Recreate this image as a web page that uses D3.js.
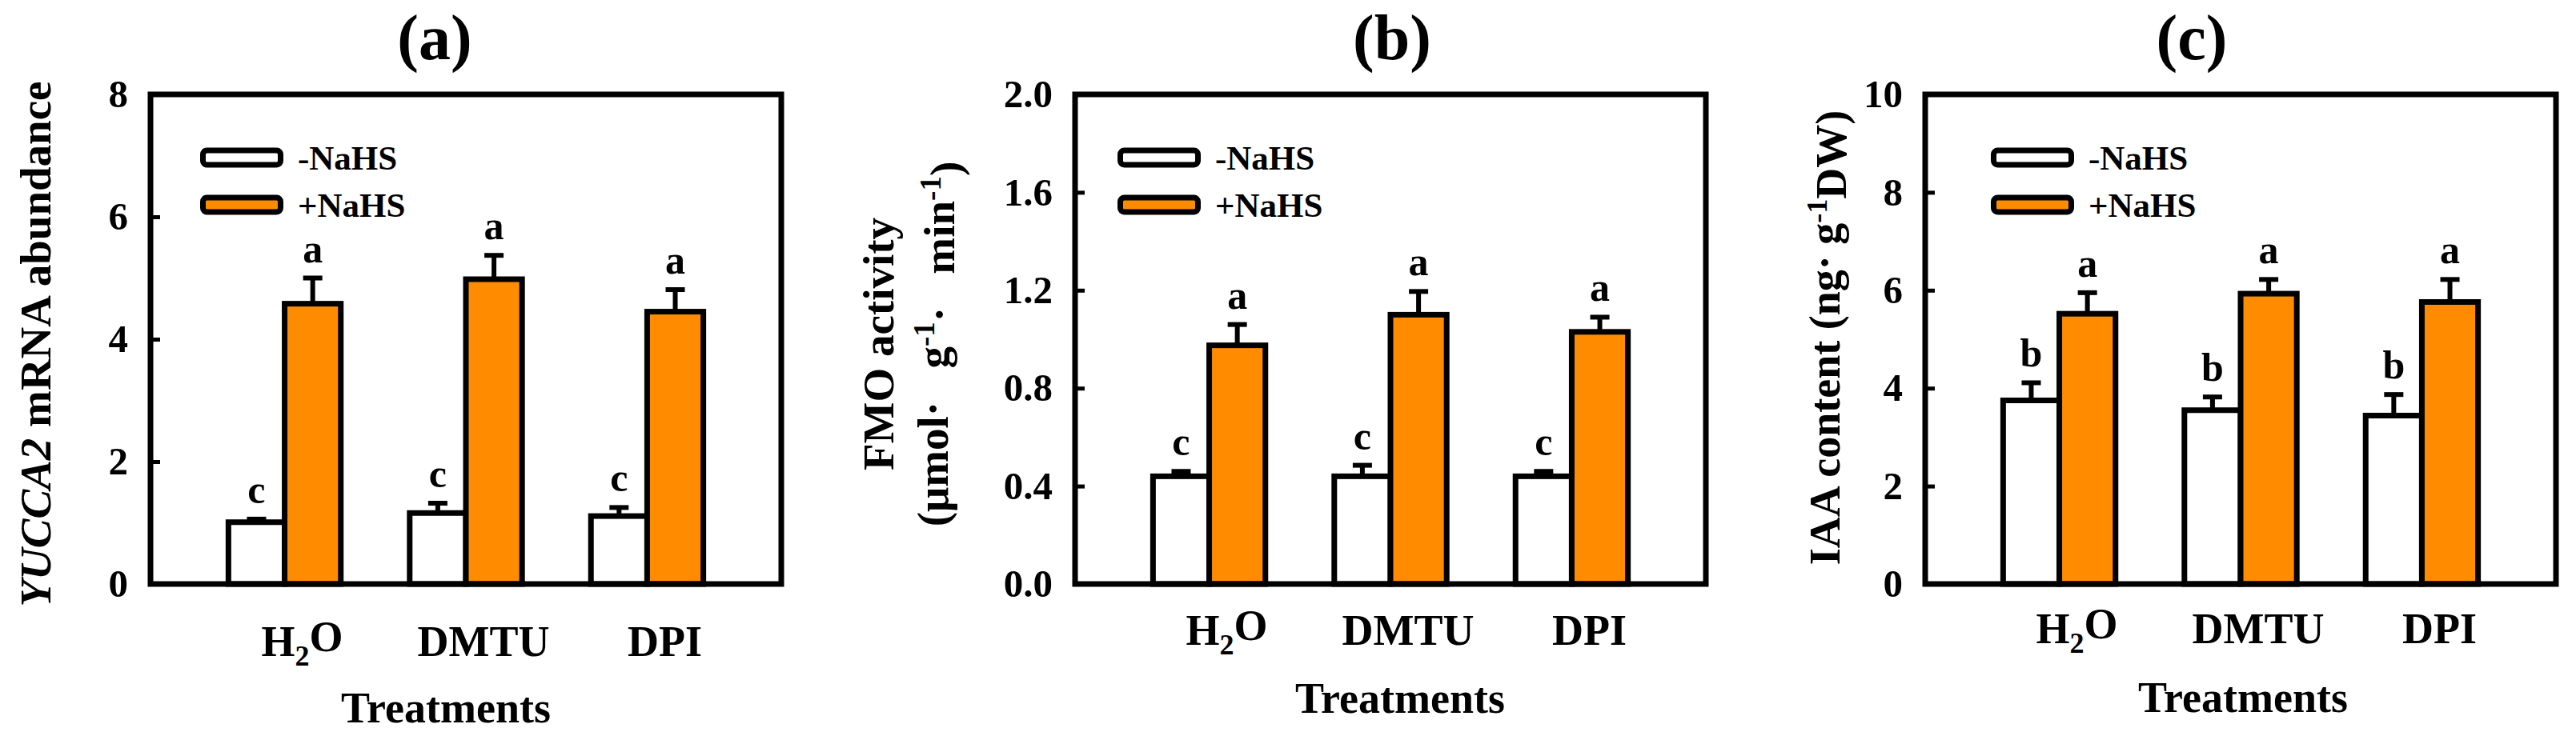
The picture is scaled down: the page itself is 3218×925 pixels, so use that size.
<!DOCTYPE html>
<html>
<head>
<meta charset="utf-8">
<script src="https://cdn.jsdelivr.net/npm/d3@7"></script>
<style>
  body { margin: 0; background: #fff; }
  text { font-family: "Liberation Serif", "Times New Roman", serif; font-weight: bold; fill: #000; }
</style>
</head>
<body>
<svg id="chart" width="3218" height="925"></svg>
<script>
// Categories and series
const treatments = ["H2O", "DMTU", "DPI"];
const seriesNames = ["-NaHS", "+NaHS"];

// (a) YUCCA2 mRNA abundance
const yuccaMinus = [1.01, 1.16, 1.11];
const yuccaMinusErr = [0.05, 0.16, 0.14];
const yuccaPlus = [4.58, 4.98, 4.45];
const yuccaPlusErr = [0.42, 0.39, 0.36];
const yuccaTicks = [0, 2, 4, 6, 8];

// (b) FMO activity
const fmoMinus = [0.44, 0.44, 0.44];
const fmoMinusErr = [0.02, 0.045, 0.02];
const fmoPlus = [0.975, 1.10, 1.03];
const fmoPlusErr = [0.085, 0.095, 0.06];
const fmoTicks = [0, 0.4, 0.8, 1.2, 1.6, 2.0];

// (c) IAA content
const iaaMinus = [3.75, 3.55, 3.44];
const iaaMinusErr = [0.36, 0.27, 0.43];
const iaaPlus = [5.52, 5.93, 5.76];
const iaaPlusErr = [0.43, 0.29, 0.46];
const iaaTicks = [0, 2, 4, 6, 8, 10];

// Significance letters
const yuccaLetters = [["c", "a"], ["c", "a"], ["c", "a"]];
const fmoLetters = [["c", "a"], ["c", "a"], ["c", "a"]];
const iaaLetters = [["b", "a"], ["b", "a"], ["b", "a"]];

const panelTitles = ["(a)", "(b)", "(c)"];

// Layout (pixels)
const frameTop = 118, frameBottom = 730, frameWidth = 788;
const fills = ["#ffffff", "#ff8c00"];

const panels = [
  { title: panelTitles[0], left: 188, titleX: 543, minus: yuccaMinus, minusErr: yuccaMinusErr,
    plus: yuccaPlus, plusErr: yuccaPlusErr, ticks: yuccaTicks, fmt: d3.format("d"),
    letters: yuccaLetters, legendDx: 62, xTitleX: 557, xLabelY: 820, xTitleY: 903 },
  { title: panelTitles[1], left: 1343, titleX: 1739, minus: fmoMinus, minusErr: fmoMinusErr,
    plus: fmoPlus, plusErr: fmoPlusErr, ticks: fmoTicks, fmt: d3.format(".1f"),
    letters: fmoLetters, legendDx: 53, xTitleX: 1749, xLabelY: 806, xTitleY: 891 },
  { title: panelTitles[2], left: 2405, titleX: 2738, minus: iaaMinus, minusErr: iaaMinusErr,
    plus: iaaPlus, plusErr: iaaPlusErr, ticks: iaaTicks, fmt: d3.format("d"),
    letters: iaaLetters, legendDx: 82, xTitleX: 2802, xLabelY: 804, xTitleY: 890 }
];

const svg = d3.select("#chart");

panels.forEach((p) => {
  const g = svg.append("g");
  const right = p.left + frameWidth;

  // Scales
  const x = d3.scaleBand()
    .domain(treatments)
    .range([p.left, right])
    .paddingInner(0.38)
    .paddingOuter(0.43);
  const xSub = d3.scaleBand()
    .domain(seriesNames)
    .range([0, x.bandwidth()]);
  const y = d3.scaleLinear()
    .domain([0, d3.max(p.ticks)])
    .range([frameBottom, frameTop]);

  const rows = [];
  treatments.forEach((t, i) => {
    rows.push({ t, s: seriesNames[0], v: p.minus[i], e: p.minusErr[i], letter: p.letters[i][0], k: 0 });
    rows.push({ t, s: seriesNames[1], v: p.plus[i], e: p.plusErr[i], letter: p.letters[i][1], k: 1 });
  });
  const cx = d => x(d.t) + xSub(d.s) + xSub.bandwidth() / 2;

  // Error bars (upper half only)
  const eb = g.selectAll(".err").data(rows).enter().append("g");
  eb.append("line")
    .attr("x1", cx).attr("x2", cx)
    .attr("y1", d => y(d.v))
    .attr("y2", d => y(d.v + d.e))
    .attr("stroke", "#000").attr("stroke-width", 6);
  eb.append("line")
    .attr("x1", d => cx(d) - 12)
    .attr("x2", d => cx(d) + 12)
    .attr("y1", d => y(d.v + d.e))
    .attr("y2", d => y(d.v + d.e))
    .attr("stroke", "#000").attr("stroke-width", 6);

  // Bars
  g.selectAll(".bar").data(rows).enter().append("rect")
    .attr("x", d => x(d.t) + xSub(d.s))
    .attr("y", d => y(d.v))
    .attr("width", xSub.bandwidth())
    .attr("height", d => frameBottom - y(d.v))
    .attr("fill", d => fills[d.k])
    .attr("stroke", "#000")
    .attr("stroke-width", 7);

  // Letters
  g.selectAll(".letter").data(rows).enter().append("text")
    .attr("x", cx)
    .attr("y", d => y(d.v + d.e) - 20)
    .attr("text-anchor", "middle")
    .style("font-size", "50px")
    .text(d => d.letter);

  // Frame
  g.append("rect")
    .attr("x", p.left).attr("y", frameTop)
    .attr("width", frameWidth).attr("height", frameBottom - frameTop)
    .attr("fill", "none").attr("stroke", "#000").attr("stroke-width", 7);

  // Y axis (ticks pointing inward)
  const ax = g.append("g")
    .attr("transform", `translate(${p.left},0)`)
    .call(d3.axisLeft(y).tickValues(p.ticks).tickFormat(p.fmt)
      .tickSizeInner(-12).tickSizeOuter(0).tickPadding(28));
  ax.select(".domain").remove();
  ax.selectAll(".tick line").attr("stroke", "#000").attr("stroke-width", 5);
  ax.selectAll(".tick text")
    .style("font-family", "'Liberation Serif', 'Times New Roman', serif")
    .style("font-weight", "bold")
    .style("font-size", "49px")
    .attr("fill", "#000");

  // X category labels
  const xl = g.selectAll(".xlab").data(treatments).enter().append("text")
    .attr("x", d => x(d) + x.bandwidth() / 2 + 22)
    .attr("y", p.xLabelY)
    .attr("text-anchor", "middle")
    .style("font-size", "54px");
  xl.each(function (d) {
    const t = d3.select(this);
    if (d === "H2O") {
      t.append("tspan").text("H");
      t.append("tspan").attr("dy", "0.32em").style("font-size", "36px").text("2");
      t.append("tspan").attr("dy", "-0.32em").text("O");
    } else {
      t.text(d);
    }
  });

  // X axis title
  g.append("text")
    .attr("x", p.xTitleX).attr("y", p.xTitleY)
    .attr("text-anchor", "middle")
    .style("font-size", "54px")
    .text("Treatments");

  // Panel title
  g.append("text")
    .attr("x", p.titleX).attr("y", 74)
    .attr("text-anchor", "middle")
    .style("font-size", "80px")
    .text(p.title);

  // Legend
  const lx = p.left + p.legendDx;
  [197, 256].forEach((ly, k) => {
    g.append("rect")
      .attr("x", lx + 3.5).attr("y", ly - 9)
      .attr("width", 97).attr("height", 18)
      .attr("rx", 5)
      .attr("fill", fills[k]).attr("stroke", "#000").attr("stroke-width", 7);
    g.append("text")
      .attr("x", lx + 122).attr("y", ly + 15)
      .style("font-size", "43px")
      .text(seriesNames[k]);
  });
});

// Y axis titles
const cy = 430;
// (a)
const ta = svg.append("text")
  .attr("transform", `translate(${44 + 19},${cy}) rotate(-90)`)
  .attr("text-anchor", "middle")
  .style("font-size", "55px");
ta.append("tspan").style("font-style", "italic").text("YUCCA2");
ta.append("tspan").text(" mRNA abundance");

// (b)
svg.append("text")
  .attr("transform", `translate(${1097 + 19},${cy}) rotate(-90)`)
  .attr("text-anchor", "middle")
  .style("font-size", "55px")
  .text("FMO activity");
const tb = svg.append("text")
  .attr("transform", `translate(${1165 + 19},${cy}) rotate(-90)`)
  .attr("text-anchor", "middle")
  .style("font-size", "55px");
tb.append("tspan").text("(\u03bcmol\u00b7\u2002 g");
tb.append("tspan").attr("dy", "-0.45em").style("font-size", "37px").text("-1");
tb.append("tspan").attr("dy", "0.45em").text("\u00b7\u2002 min");
tb.append("tspan").attr("dy", "-0.45em").style("font-size", "37px").text("-1");
tb.append("tspan").attr("dy", "0.45em").text(")");

// (c)
const tc = svg.append("text")
  .attr("transform", `translate(${2279 + 19},${cy - 8}) rotate(-90)`)
  .attr("text-anchor", "middle")
  .style("font-size", "54px");
tc.append("tspan").text("IAA content (ng\u00b7  g");
tc.append("tspan").attr("dy", "-0.45em").style("font-size", "36px").text("-1");
tc.append("tspan").attr("dy", "0.45em").text("DW)");
</script>
</body>
</html>
